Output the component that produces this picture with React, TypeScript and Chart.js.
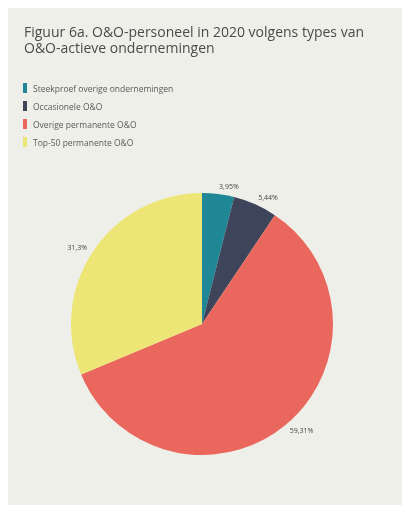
import React, { useEffect, useRef } from "react";
import { Chart, registerables } from "chart.js";

Chart.register(...registerables);

const categories = [
  "Steekproef overige ondernemingen",
  "Occasionele O&O",
  "Overige permanente O&O",
  "Top-50 permanente O&O",
];
const values = [3.95, 5.44, 59.31, 31.3];
const valueLabels = ["3,95%", "5,44%", "59,31%", "31,3%"];
const colors = ["#1f8796", "#3e4459", "#e9675d", "#ede677"];
const titleLines = ["Figuur 6a. O&O-personeel in 2020 volgens types van", "O&O-actieve ondernemingen"];

const FONT = "'Open Sans', 'DejaVu Sans', sans-serif";

const outsideLabels = {
  id: "outsideLabels",
  afterDatasetsDraw(chart: any) {
    const ctx = chart.ctx;
    const meta = chart.getDatasetMeta(0);
    ctx.save();
    ctx.font = `7px ${FONT}`;
    ctx.fillStyle = "#444";
    ctx.textBaseline = "middle";
    meta.data.forEach((arc: any, i: number) => {
      const { x, y, startAngle, endAngle, outerRadius } = arc.getProps(
        ["x", "y", "startAngle", "endAngle", "outerRadius"],
        true
      );
      const mid = (startAngle + endAngle) / 2;
      const r = outerRadius + 7;
      const px = x + Math.cos(mid) * r;
      const py = y + Math.sin(mid) * r;
      ctx.textAlign = Math.cos(mid) >= 0 ? "left" : "right";
      ctx.fillText(valueLabels[i], px, py);
    });
    ctx.restore();
  },
};

export default function App() {
  const ref = useRef<HTMLCanvasElement>(null);
  useEffect(() => {
    const chart = new Chart(ref.current!, {
      type: "pie",
      data: {
        labels: categories,
        datasets: [
          {
            data: values,
            backgroundColor: colors,
            borderWidth: 0,
          },
        ],
      },
      options: {
        animation: false,
        responsive: false,
        layout: { padding: { left: 63, right: 69, top: 185, bottom: 50 } },
        plugins: {
          legend: { display: false },
          tooltip: { enabled: false },
        },
      },
      plugins: [outsideLabels],
    });
    return () => chart.destroy();
  }, []);

  return (
    <div
      style={{
        position: "fixed",
        left: 8,
        top: 8,
        right: 0,
        bottom: 0,
        background: "#efefe9",
        fontFamily: FONT,
        overflow: "hidden",
      }}
    >
      <canvas ref={ref} width={394} height={497} style={{ position: "absolute", left: 0, top: 0 }} />
      <div
        style={{
          position: "absolute",
          left: 16,
          top: 16,
          fontSize: 14,
          lineHeight: "16px",
          color: "#4a4a4a",
          whiteSpace: "nowrap",
        }}
      >
        {titleLines.map((t, i) => (
          <div key={i}>{t}</div>
        ))}
      </div>
      <div style={{ position: "absolute", left: 15, top: 71 }}>
        {categories.map((c, i) => (
          <div
            key={i}
            style={{
              display: "flex",
              alignItems: "center",
              height: 18,
              fontSize: 8.5,
              color: "#5a5a5a",
              whiteSpace: "nowrap",
            }}
          >
            <span
              style={{
                display: "inline-block",
                width: 4,
                height: 10,
                background: colors[i],
                marginRight: 6,
              }}
            />
            {c}
          </div>
        ))}
      </div>
    </div>
  );
}
